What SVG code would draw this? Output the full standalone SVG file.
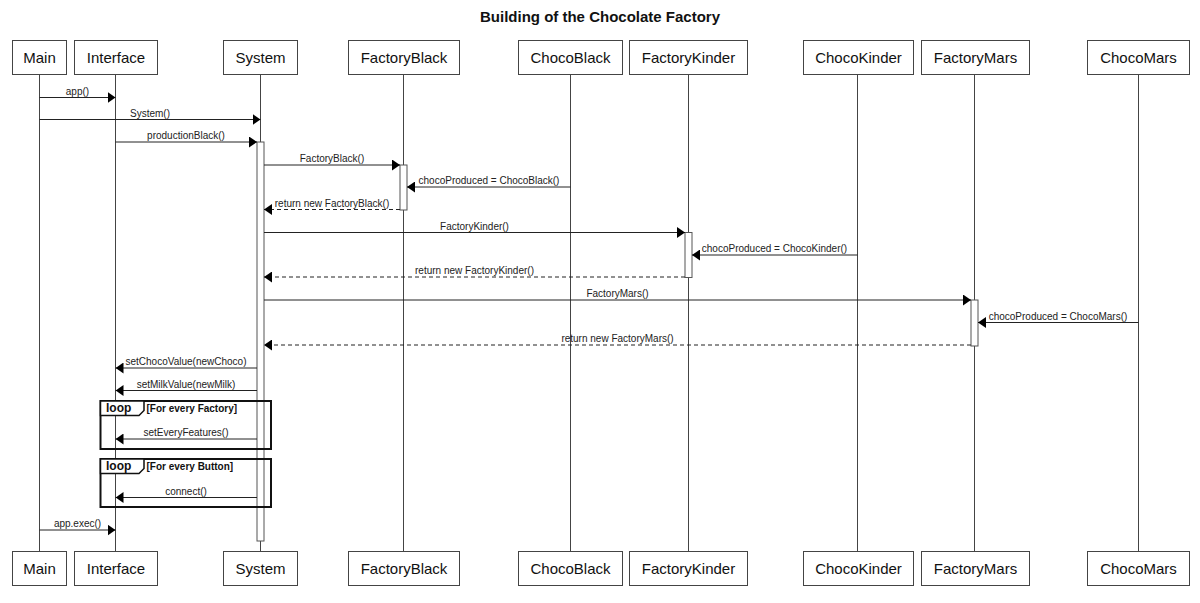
<svg xmlns="http://www.w3.org/2000/svg" width="1200" height="603" viewBox="0 0 1200 603">
<style>
  .box { fill: #ffffff; stroke: #444444; stroke-width: 1; }
  .pname { font-family: "Liberation Sans", Arial, sans-serif; font-size: 15px; fill: #111111; text-anchor: middle; }
  .life { stroke: #444444; stroke-width: 1; fill: none; }
  .act { fill: #ffffff; stroke: #555555; stroke-width: 1; }
  .msg { stroke: #222222; stroke-width: 1; fill: none; marker-end: url(#arrow); }
  .ret { stroke: #222222; stroke-width: 1; fill: none; stroke-dasharray: 4 3; marker-end: url(#arrow); }
  .lbl { font-family: "Liberation Sans", Arial, sans-serif; font-size: 10px; fill: #222222; text-anchor: middle; }
  .frame { fill: none; stroke: #111111; stroke-width: 2; }
  .fhead { fill: #ffffff; stroke: #111111; stroke-width: 1.5; }
  .ftag { font-family: "Liberation Sans", Arial, sans-serif; font-size: 12px; font-weight: bold; fill: #111111; }
  .guard { font-family: "Liberation Sans", Arial, sans-serif; font-size: 10px; font-weight: bold; fill: #111111; }
  .title { font-family: "Liberation Sans", Arial, sans-serif; font-size: 15px; font-weight: bold; fill: #111111; text-anchor: middle; }
</style>
<defs>
  <marker id="arrow" viewBox="0 0 8 11" refX="8" refY="5.5" markerWidth="8" markerHeight="11" markerUnits="userSpaceOnUse" orient="auto">
    <path d="M0,0 L8,5.5 L0,11 z" fill="#000000"/>
  </marker>
</defs>
<rect x="0" y="0" width="1200" height="603" fill="#ffffff"/>
<text class="title" x="600" y="21.5">Building of the Chocolate Factory</text>

<g id="lifelines">
  <line class="life" x1="39.5" y1="74" x2="39.5" y2="551"/>
  <line class="life" x1="115.5" y1="74" x2="115.5" y2="551"/>
  <line class="life" x1="260.5" y1="74" x2="260.5" y2="551"/>
  <line class="life" x1="403.5" y1="74" x2="403.5" y2="551"/>
  <line class="life" x1="570.5" y1="74" x2="570.5" y2="551"/>
  <line class="life" x1="688.5" y1="74" x2="688.5" y2="551"/>
  <line class="life" x1="857.5" y1="74" x2="857.5" y2="551"/>
  <line class="life" x1="974.5" y1="74" x2="974.5" y2="551"/>
  <line class="life" x1="1138.5" y1="74" x2="1138.5" y2="551"/>
</g>

<g id="activations">
  <rect class="act" x="257" y="142" width="7" height="399"/>
  <rect class="act" x="400" y="165" width="7" height="45"/>
  <rect class="act" x="685" y="232.5" width="7" height="45"/>
  <rect class="act" x="971" y="300" width="7" height="46"/>
</g>

<g id="node-Main">
  <rect class="box" x="12.5" y="40.5" width="54" height="34"/>
  <text class="pname" x="39.5" y="62.5">Main</text>
  <rect class="box" x="12.5" y="551.5" width="54" height="34"/>
  <text class="pname" x="39.5" y="573.5">Main</text>
</g>
<g id="node-Interface">
  <rect class="box" x="74.5" y="40.5" width="83" height="34"/>
  <text class="pname" x="116" y="62.5">Interface</text>
  <rect class="box" x="74.5" y="551.5" width="83" height="34"/>
  <text class="pname" x="116" y="573.5">Interface</text>
</g>
<g id="node-System">
  <rect class="box" x="223.5" y="40.5" width="74" height="34"/>
  <text class="pname" x="260.5" y="62.5">System</text>
  <rect class="box" x="223.5" y="551.5" width="74" height="34"/>
  <text class="pname" x="260.5" y="573.5">System</text>
</g>
<g id="node-FactoryBlack">
  <rect class="box" x="348.5" y="40.5" width="111" height="34"/>
  <text class="pname" x="404" y="62.5">FactoryBlack</text>
  <rect class="box" x="348.5" y="551.5" width="111" height="34"/>
  <text class="pname" x="404" y="573.5">FactoryBlack</text>
</g>
<g id="node-ChocoBlack">
  <rect class="box" x="518.5" y="40.5" width="104" height="34"/>
  <text class="pname" x="570.5" y="62.5">ChocoBlack</text>
  <rect class="box" x="518.5" y="551.5" width="104" height="34"/>
  <text class="pname" x="570.5" y="573.5">ChocoBlack</text>
</g>
<g id="node-FactoryKinder">
  <rect class="box" x="629.5" y="40.5" width="118" height="34"/>
  <text class="pname" x="688.5" y="62.5">FactoryKinder</text>
  <rect class="box" x="629.5" y="551.5" width="118" height="34"/>
  <text class="pname" x="688.5" y="573.5">FactoryKinder</text>
</g>
<g id="node-ChocoKinder">
  <rect class="box" x="803.5" y="40.5" width="110" height="34"/>
  <text class="pname" x="858.5" y="62.5">ChocoKinder</text>
  <rect class="box" x="803.5" y="551.5" width="110" height="34"/>
  <text class="pname" x="858.5" y="573.5">ChocoKinder</text>
</g>
<g id="node-FactoryMars">
  <rect class="box" x="921.5" y="40.5" width="108" height="34"/>
  <text class="pname" x="975.5" y="62.5">FactoryMars</text>
  <rect class="box" x="921.5" y="551.5" width="108" height="34"/>
  <text class="pname" x="975.5" y="573.5">FactoryMars</text>
</g>
<g id="node-ChocoMars">
  <rect class="box" x="1087.5" y="40.5" width="102" height="34"/>
  <text class="pname" x="1138.5" y="62.5">ChocoMars</text>
  <rect class="box" x="1087.5" y="551.5" width="102" height="34"/>
  <text class="pname" x="1138.5" y="573.5">ChocoMars</text>
</g>

<g id="frames">
  <rect class="frame" x="100.5" y="401" width="170.5" height="48"/>
  <path class="fhead" d="M100.5,401 L144,401 L144,410.5 L139,415.5 L100.5,415.5 Z"/>
  <text class="ftag" x="106" y="412">loop</text>
  <text class="guard" x="146.5" y="411.5">[For every Factory]</text>
  <rect class="frame" x="100.5" y="459" width="170.5" height="48"/>
  <path class="fhead" d="M100.5,459 L144,459 L144,468.5 L139,473.5 L100.5,473.5 Z"/>
  <text class="ftag" x="106" y="470">loop</text>
  <text class="guard" x="146.5" y="469.5">[For every Button]</text>
</g>

<g id="connectors">
  <line class="msg" x1="39.5" y1="97.5" x2="115.5" y2="97.5"/>
  <text class="lbl" x="77.5" y="94.5">app()</text>

  <line class="msg" x1="39.5" y1="119.5" x2="260.5" y2="119.5"/>
  <text class="lbl" x="150" y="116.5">System()</text>

  <line class="msg" x1="115.5" y1="142" x2="257" y2="142"/>
  <text class="lbl" x="186" y="139">productionBlack()</text>

  <line class="msg" x1="264" y1="165" x2="400" y2="165"/>
  <text class="lbl" x="332" y="162">FactoryBlack()</text>

  <line class="msg" x1="570.5" y1="187" x2="407" y2="187"/>
  <text class="lbl" x="489" y="184">chocoProduced = ChocoBlack()</text>

  <line class="ret" x1="400" y1="209.5" x2="264" y2="209.5"/>
  <text class="lbl" x="332" y="206.5">return new FactoryBlack()</text>

  <line class="msg" x1="264" y1="232.5" x2="685" y2="232.5"/>
  <text class="lbl" x="474.5" y="229.5">FactoryKinder()</text>

  <line class="msg" x1="857.5" y1="255" x2="692" y2="255"/>
  <text class="lbl" x="774.5" y="252">chocoProduced = ChocoKinder()</text>

  <line class="ret" x1="685" y1="277" x2="264" y2="277"/>
  <text class="lbl" x="474.5" y="274">return new FactoryKinder()</text>

  <line class="msg" x1="264" y1="300" x2="971" y2="300"/>
  <text class="lbl" x="617.5" y="297">FactoryMars()</text>

  <line class="msg" x1="1138.5" y1="322.5" x2="978" y2="322.5"/>
  <text class="lbl" x="1058" y="319.5">chocoProduced = ChocoMars()</text>

  <line class="ret" x1="971" y1="345" x2="264" y2="345"/>
  <text class="lbl" x="617.5" y="342">return new FactoryMars()</text>

  <line class="msg" x1="257" y1="368" x2="115.5" y2="368"/>
  <text class="lbl" x="186" y="365">setChocoValue(newChoco)</text>

  <line class="msg" x1="257" y1="390.5" x2="115.5" y2="390.5"/>
  <text class="lbl" x="186" y="387.5">setMilkValue(newMilk)</text>

  <line class="msg" x1="257" y1="439" x2="115.5" y2="439"/>
  <text class="lbl" x="186" y="436">setEveryFeatures()</text>

  <line class="msg" x1="257" y1="497.5" x2="115.5" y2="497.5"/>
  <text class="lbl" x="186" y="494.5">connect()</text>

  <line class="msg" x1="39.5" y1="530" x2="115.5" y2="530"/>
  <text class="lbl" x="77.5" y="527">app.exec()</text>
</g>
</svg>
